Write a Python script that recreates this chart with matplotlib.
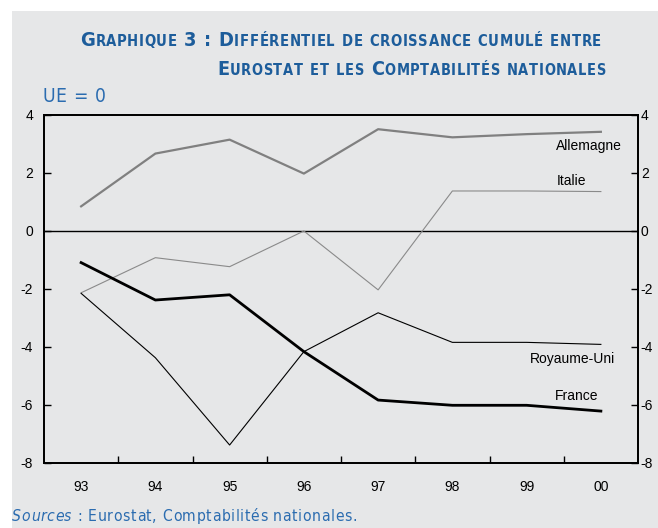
import matplotlib
matplotlib.use("Agg")
import matplotlib.pyplot as plt
from matplotlib import font_manager
from matplotlib.font_manager import FontProperties
from matplotlib.patches import Rectangle
from matplotlib.transforms import IdentityTransform
from matplotlib.ticker import FixedLocator, NullFormatter

# data
years = ["93", "94", "95", "96", "97", "98", "99", "00"]
allemagne = [0.85, 2.67, 3.15, 1.98, 3.51, 3.23, 3.34, 3.42]
italie = [-2.13, -0.92, -1.23, 0.0, -2.03, 1.38, 1.38, 1.36]
royaume_uni = [-2.15, -4.37, -7.38, -4.16, -2.82, -3.84, -3.84, -3.91]
france = [-1.09, -2.38, -2.20, -4.16, -5.83, -6.01, -6.01, -6.21]
y_ticks = [-8, -6, -4, -2, 0, 2, 4]

title_lines = ["Graphique 3 : Différentiel de croissance cumulé entre",
               "Eurostat et les Comptabilités nationales"]

W, H = 658, 528
BG = "#e6e7e8"
BLUE = "#1d5d9b"
BLUE2 = "#2b6cb0"

names = {f.name for f in font_manager.fontManager.ttflist}
SANS = "Liberation Sans" if "Liberation Sans" in names else "DejaVu Sans"


def is_condensed(f):
    n = f.name.lower()
    if "narrow" in n or "condensed" in n:
        return True
    st = f.stretch
    if isinstance(st, str):
        return "condensed" in st
    return isinstance(st, (int, float)) and st < 500


def weight_num(w):
    if isinstance(w, (int, float)):
        return w
    return font_manager.weight_dict.get(w, 400)


def pick_font(bold=False, italic=False):
    # a narrow face if one is installed, else the plain sans
    best = None
    for f in font_manager.fontManager.ttflist:
        if not is_condensed(f):
            continue
        wn = weight_num(f.weight)
        if bold != (wn >= 600):
            continue
        if italic != (f.style in ("italic", "oblique")):
            continue
        if 300 <= wn <= 800 and (best is None or abs(wn - (700 if bold else 400)) < abs(weight_num(best.weight) - (700 if bold else 400))):
            best = f
    if best is not None:
        return FontProperties(fname=best.fname)
    return FontProperties(family=SANS, weight="bold" if bold else "normal",
                          style="italic" if italic else "normal")


FP_BOLD = pick_font(bold=True)
FP_REG = pick_font()
FP_IT = pick_font(italic=True)

plt.rcParams["axes.unicode_minus"] = False
plt.rcParams["font.family"] = SANS

fig = plt.figure(figsize=(W / 100, H / 100), dpi=100, facecolor="white")
fig.patches.append(Rectangle((12 / W, 0), 1, (H - 11) / H, transform=fig.transFigure,
                             facecolor=BG, edgecolor="none", zorder=-10))
renderer = fig.canvas.get_renderer()


def advance(s, fp, size):
    t = fig.text(0, 0, "|" + s + "|", fontproperties=fp, fontsize=size,
                 transform=IdentityTransform())
    w1 = t.get_window_extent(renderer).width
    t.set_text("||")
    w2 = t.get_window_extent(renderer).width
    t.remove()
    return w1 - w2


def tracked(chars, x, y, width, ha, color):
    # chars: list of (char, fontprops, size); spread over the given pixel width
    advs = [advance(c, fp, s) for c, fp, s in chars]
    n = max(len(chars) - 1, 1)
    scale = 1.0
    if sum(advs) > width - 0.6 * n:
        scale = (width - 0.6 * n) / sum(advs)
        advs = [a * scale for a in advs]
    extra = (width - sum(advs)) / n
    x0 = x - width if ha == "right" else x
    for (ch, fp, size), a in zip(chars, advs):
        fig.text(x0, y, ch, fontproperties=fp, fontsize=size * scale,
                 color=color, va="baseline", transform=IdentityTransform())
        x0 += a + extra


def small_caps(text, big=14.8, small=10.9):
    out = []
    for ch in text:
        if ch.islower():
            out.append((ch.upper(), FP_BOLD, small))
        else:
            out.append((ch, FP_BOLD, big))
    return out


# title, right aligned, small caps
tracked(small_caps(title_lines[0]), 601, H - 46, 521, "right", BLUE)
tracked(small_caps(title_lines[1]), 606, H - 75, 389, "right", BLUE)

# unit
tracked([(c, FP_REG, 13.8) for c in "UE = 0"], 42, H - 102, 64, "left", BLUE2)

# sources
src = [(c, FP_IT, 12.5) for c in "Sources"]
src += [(c, FP_REG, 12.5) for c in " : Eurostat, Comptabilités nationales."]
tracked(src, 12, 7, 345, "left", BLUE2)

ax = fig.add_axes([44 / W, (H - 463) / H, (638 - 44) / W, (463 - 115) / H])
ax.set_facecolor(BG)
x = list(range(len(years)))

ax.axhline(0, color="black", lw=1.0, zorder=1)
ax.plot(x, allemagne, color="#808080", lw=1.6, zorder=2)
ax.plot(x, italie, color="#8a8a8a", lw=0.8, zorder=2)
ax.plot(x, royaume_uni, color="black", lw=0.8, zorder=3)
ax.plot(x, france, color="black", lw=2.0, zorder=4)

lab = dict(fontsize=10, family=SANS, color="black", va="center")
ax.text(6.39, 2.93, "Allemagne", ha="left", **lab)
ax.text(6.41, 1.72, "Italie", ha="left", **lab)
ax.text(7.19, -4.41, "Royaume-Uni", ha="right", **lab)
ax.text(6.97, -5.69, "France", ha="right", **lab)

ax.set_xlim(-0.5, 7.5)
ax.set_ylim(-8, 4)

ax.xaxis.set_major_locator(FixedLocator([i + 0.5 for i in range(len(years) - 1)]))
ax.xaxis.set_major_formatter(NullFormatter())
ax.set_xticks(x, minor=True)
ax.set_xticklabels(years, minor=True)
ax.tick_params(axis="x", which="major", direction="in", length=5, width=1, top=False)
ax.tick_params(axis="x", which="minor", length=0, pad=12, labelsize=10)

ax.set_yticks(y_ticks)
ax.set_yticklabels([str(v) for v in y_ticks])
ax.tick_params(axis="y", direction="in", length=5, width=1, pad=8, labelsize=10)

ax2 = ax.twinx()
ax2.set_ylim(ax.get_ylim())
ax2.set_yticks(y_ticks)
ax2.set_yticklabels([str(v) for v in y_ticks])
ax2.tick_params(axis="y", direction="in", length=5, width=1, pad=2, labelsize=10)

for a in (ax, ax2):
    for sp in a.spines.values():
        sp.set_linewidth(1.3)
        sp.set_color("black")

fig.savefig("out.png", dpi=100, facecolor="white")
